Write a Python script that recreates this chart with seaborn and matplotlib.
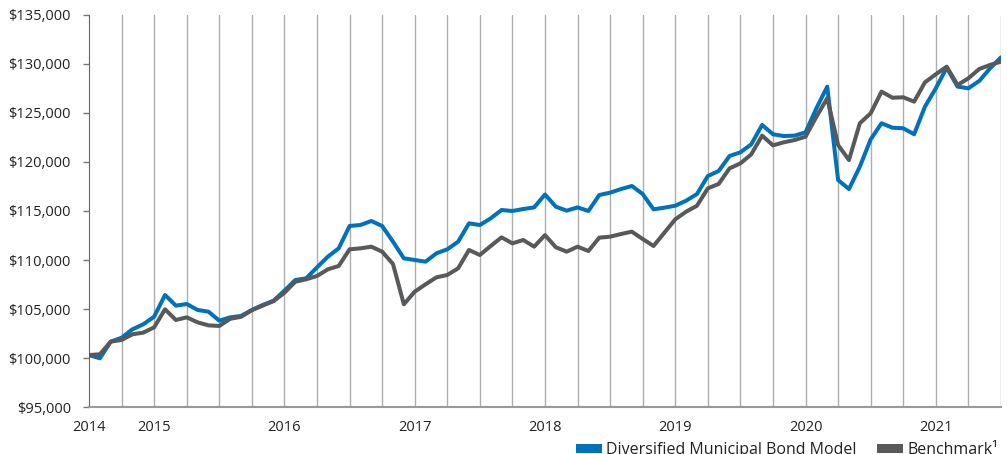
import matplotlib
matplotlib.use("Agg")
import matplotlib.pyplot as plt
import matplotlib.ticker as mticker
from matplotlib.patches import Patch
import seaborn as sns
import pandas as pd

# monthly index, 0 = mid 2014, 84 = mid 2021
months = list(range(85))

model = [100300, 99970, 101670, 102070, 102930, 103440, 104220, 106430, 105340, 105510,
         104900, 104730, 103810, 104150, 104290, 104900, 105410, 105850, 106870, 107960,
         108130, 109250, 110340, 111190, 113470, 113570, 113980, 113470, 111870, 110170,
         110000, 109830, 110680, 111090, 111870, 113740, 113570, 114250, 115100, 115000,
         115200, 115370, 116680, 115440, 115030, 115370, 115000, 116630, 116870, 117240,
         117550, 116730, 115170, 115340, 115540, 116050, 116730, 118570, 119080, 120610,
         120990, 121800, 123780, 122830, 122650, 122690, 123030, 125480, 127690, 118160,
         117240, 119520, 122310, 123950, 123500, 123440, 122830, 125650, 127520, 129630,
         127690, 127520, 128270, 129560, 130680]

benchmark = [100300, 100380, 101670, 101840, 102420, 102590, 103130, 104970, 103880, 104150,
             103640, 103330, 103270, 104000, 104200, 104880, 105350, 105800, 106660, 107780,
             108030, 108370, 109050, 109390, 111090, 111190, 111360, 110850, 109590, 105480,
             106770, 107520, 108230, 108470, 109150, 111020, 110510, 111430, 112310, 111700,
             112040, 111360, 112540, 111300, 110850, 111360, 110920, 112280, 112380, 112650,
             112890, 112140, 111430, 112790, 114150, 114930, 115540, 117310, 117760, 119350,
             119860, 120780, 122690, 121700, 122010, 122240, 122580, 124620, 126500, 121730,
             120200, 123950, 124970, 127180, 126560, 126600, 126160, 128130, 128950, 129730,
             127860, 128540, 129490, 129900, 130240]

series_names = ["Diversified Municipal Bond Model", "Benchmark\u00b9"]
colors = ["#0072bc", "#58595b"]

year_pos = [0, 6, 18, 30, 42, 54, 66, 78]
year_labels = ["2014", "2015", "2016", "2017", "2018", "2019", "2020", "2021"]

df = pd.DataFrame({
    "month": months * 2,
    "value": model + benchmark,
    "series": [series_names[0]] * len(model) + [series_names[1]] * len(benchmark),
})

sns.set_style("white")
plt.rcParams["font.family"] = ["Open Sans", "DejaVu Sans"]

fig = plt.figure(figsize=(10.07, 4.54), dpi=100)
ax = fig.add_axes([0.0884, 0.1035, 0.9056, 0.8635])

# quarterly vertical grid lines
for q in range(3, 85, 3):
    ax.axvline(q, color="#adadad", linewidth=1.0, zorder=0)

sns.lineplot(data=df, x="month", y="value", hue="series", palette=colors,
             linewidth=2.9, ax=ax, legend=False, zorder=3)

ax.set_xlim(0, 84)
ax.set_ylim(95000, 135000)
ax.yaxis.set_major_locator(mticker.MultipleLocator(5000))
ax.yaxis.set_major_formatter(mticker.FuncFormatter(lambda v, p: "${:,.0f}".format(v)))

ax.set_xticks(year_pos)
ax.set_xticklabels(year_labels)
minor = [q for q in range(0, 85, 3) if q not in year_pos]
ax.set_xticks(minor, minor=True)
ax.tick_params(axis="x", which="major", length=0, pad=9, labelsize=10.5, labelcolor="#222222")
ax.tick_params(axis="x", which="minor", length=5, width=1, color="#777777", direction="out")
ax.tick_params(axis="y", which="major", length=4, width=1, color="#777777", pad=9,
               labelsize=10.5, labelcolor="#222222", left=True)
ax.set_xlabel("")
ax.set_ylabel("")

sns.despine(ax=ax)
ax.spines["left"].set_color("#666666")
ax.spines["bottom"].set_color("#999999")
ax.spines["bottom"].set_linewidth(1.5)

handles = [Patch(facecolor=c, edgecolor="none") for c in colors]
fig.legend(handles, series_names, loc="center left", bbox_to_anchor=(0.572, 0.008),
           ncol=2, frameon=False, fontsize=11.5, handlelength=1.63, handleheight=0.5,
           handletextpad=0.25, columnspacing=1.3, borderpad=0, borderaxespad=0,
           labelcolor="#222222")

fig.savefig("out.png", dpi=100)
